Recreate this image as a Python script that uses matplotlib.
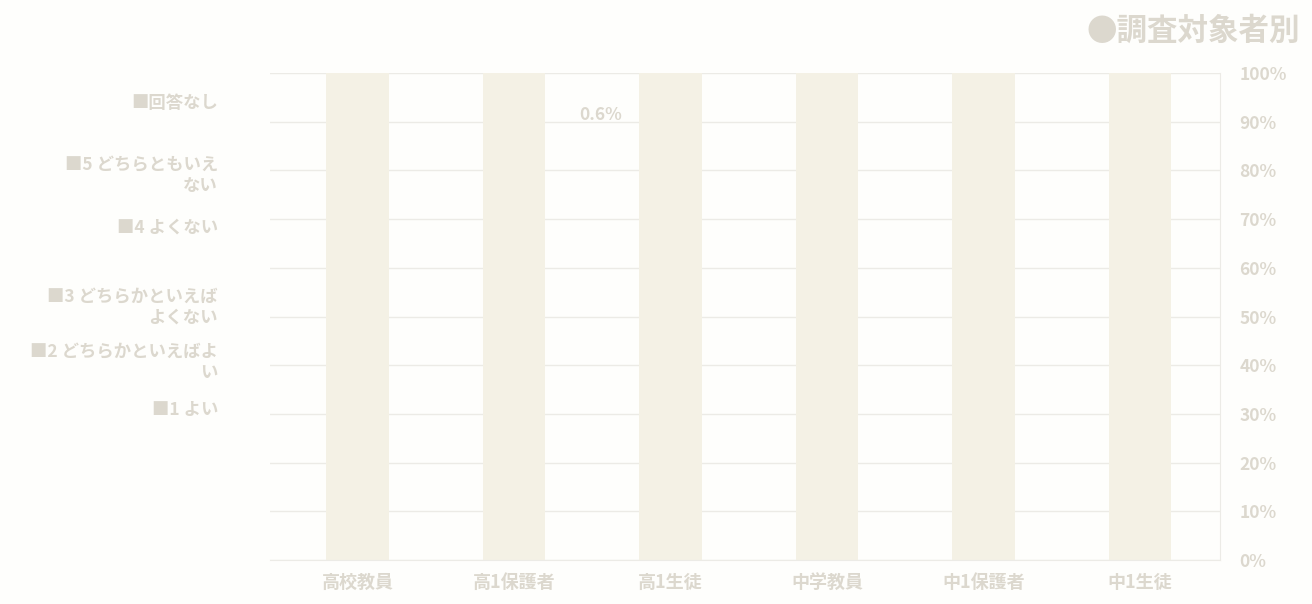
import matplotlib
matplotlib.use("Agg")
import matplotlib.pyplot as plt

plt.rcParams['font.family'] = ['Noto Sans CJK JP', 'DejaVu Sans']

# Data (picture is a mirrored show-through scan: categories run right-to-left)
categories = ["中1生徒", "中1保護者", "中学教員", "高1生徒", "高1保護者", "高校教員"]
totals = [100, 100, 100, 100, 100, 100]
y_ticks = [0, 10, 20, 30, 40, 50, 60, 70, 80, 90, 100]
y_tick_labels = ["0%", "10%", "20%", "30%", "40%", "50%", "60%", "70%", "80%", "90%", "100%"]
legend_lines = [
    ["■回答なし"],
    ["■5 どちらともいえ", "ない"],
    ["■4 よくない"],
    ["■3 どちらかといえば", "よくない"],
    ["■2 どちらかといえばよ", "い"],
    ["■1 よい"],
]
legend_y_px = [103, 165, 228, 297, 352, 410]
title = "●調査対象者別"
note_label = "0.6%"

TEXT = "#dcd8ce"
BAR = "#f4f1e5"
GRID = "#ecebe6"

W, H = 1312, 604
fig = plt.figure(figsize=(W / 100, H / 100), dpi=100)
fig.patch.set_facecolor("#fefefc")

ax = fig.add_axes([270 / W, 1 - 560 / H, 950 / W, (560 - 73) / H])
ax.set_facecolor("#fefefc")

x = list(range(len(categories)))
ax.bar(x, totals, width=0.40, color=BAR, edgecolor="none", zorder=2)

ax.set_xlim(5.56, -0.51)  # mirrored order
ax.set_ylim(0, 100)
ax.set_yticks(y_ticks)
ax.set_yticklabels(y_tick_labels)
ax.yaxis.tick_right()
ax.tick_params(axis="y", length=0, pad=14, labelsize=12.5, labelcolor=TEXT)
for lab in ax.get_yticklabels():
    lab.set_fontweight("bold")
ax.set_xticks(x)
ax.set_xticklabels(categories)
ax.tick_params(axis="x", length=0, pad=9, labelsize=13, labelcolor=TEXT)
for lab in ax.get_xticklabels():
    lab.set_fontweight("bold")
ax.grid(axis="y", color=GRID, linewidth=1, zorder=0)

for s in ["top", "left"]:
    ax.spines[s].set_visible(False)
ax.spines["right"].set_color(GRID)
ax.spines["bottom"].set_color(GRID)

# small value label
ax.text(3.45, 91.4, note_label, color=TEXT, fontsize=12.5, fontweight="bold",
        ha="center", va="center")

# title
fig.text(1300 / W, 1 - 31 / H, title, color=TEXT, fontsize=22, fontweight="bold",
         ha="right", va="center")

# legend as text block on left
for lines, ypx in zip(legend_lines, legend_y_px):
    for i, ln in enumerate(lines):
        fig.text(218 / W, 1 - (ypx + i * 21) / H, ln, color=TEXT, fontsize=12.5,
                 fontweight="bold", ha="right", va="center")

fig.savefig("out.png", dpi=100, facecolor=fig.get_facecolor())
